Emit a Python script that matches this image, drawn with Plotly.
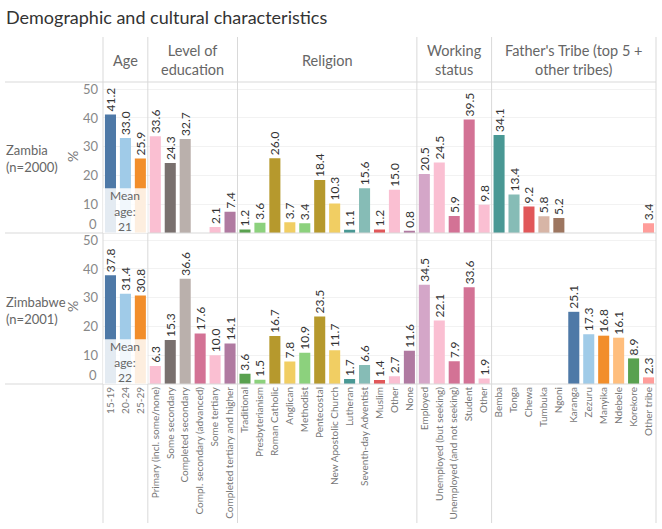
import plotly.graph_objects as go
from plotly.subplots import make_subplots

title_text = "Demographic and cultural characteristics"
group_titles = ["Age", "Level of<br>education", "Religion", "Working<br>status",
                "Father's Tribe (top 5 +<br>other tribes)"]
countries = ["Zambia<br>(n=2000)", "Zimbabwe<br>(n=2001)"]
mean_ages = ["21", "22"]

age_cats = ["15-19", "20-24", "25-29"]
edu_cats = ["Primary (incl. some/none)", "Some secondary", "Completed secondary",
            "Compl. secondary (advanced)", "Some tertiary", "Completed tertiary and higher"]
rel_cats = ["Traditional", "Presbyterianism", "Roman Catholic", "Anglican", "Methodist",
            "Pentecostal", "New Apostolic Church", "Lutheran", "Seventh-day Adventist",
            "Muslim", "Other", "None"]
work_cats = ["Employed", "Unemployed (but seeking)", "Unemployed (and not seeking)",
             "Student", "Other"]
tribe_cats = ["Bemba", "Tonga", "Chewa", "Tumbuka", "Ngoni", "Karanga", "Zezuru",
              "Manyika", "Ndebele", "Korekore", "Other tribe"]

zambia_age = [41.2, 33.0, 25.9]
zambia_edu = [33.6, 24.3, 32.7, None, 2.1, 7.4]
zambia_rel = [1.2, 3.6, 26.0, 3.7, 3.4, 18.4, 10.3, 1.1, 15.6, 1.2, 15.0, 0.8]
zambia_work = [20.5, 24.5, 5.9, 39.5, 9.8]
zambia_tribe = [34.1, 13.4, 9.2, 5.8, 5.2, None, None, None, None, None, 3.4]

zimbabwe_age = [37.8, 31.4, 30.8]
zimbabwe_edu = [6.3, 15.3, 36.6, 17.6, 10.0, 14.1]
zimbabwe_rel = [3.6, 1.5, 16.7, 7.8, 10.9, 23.5, 11.7, 1.7, 6.6, 1.4, 2.7, 11.6]
zimbabwe_work = [34.5, 22.1, 7.9, 33.6, 1.9]
zimbabwe_tribe = [None, None, None, None, None, 25.1, 17.3, 16.8, 16.1, 8.9, 2.3]

age_colors = ["#4e79a7", "#a0cbe8", "#f28e2b"]
edu_colors = ["#fabfd2", "#79706e", "#bab0ac", "#d37295", "#fabfd2", "#b07aa1"]
rel_colors = ["#59a14f", "#8cd17d", "#b6992d", "#f1ce63", "#8cd17d", "#b6992d",
              "#f1ce63", "#499894", "#86bcb6", "#e15759", "#fabfd2", "#b07aa1"]
work_colors = ["#d4a6c8", "#fabfd2", "#d37295", "#d37295", "#fabfd2"]
tribe_colors = ["#499894", "#86bcb6", "#e15759", "#d7b5a6", "#9d7660", "#4e79a7",
                "#a0cbe8", "#f28e2b", "#ffbe7d", "#59a14f", "#ff9d9a"]

cats = [age_cats, edu_cats, rel_cats, work_cats, tribe_cats]
colors = [age_colors, edu_colors, rel_colors, work_colors, tribe_colors]
data = [
    [zambia_age, zambia_edu, zambia_rel, zambia_work, zambia_tribe],
    [zimbabwe_age, zimbabwe_edu, zimbabwe_rel, zimbabwe_work, zimbabwe_tribe],
]

W, H = 662, 529
L, R, T, B = 103, 6, 82, 145
PW, PH = W - L - R, H - T - B
YMAX = 52.5


def px_x(px):
    return (px - L) / PW


def px_y(py):
    return (H - B - py) / PH


FONT = "Lato, 'Open Sans', sans-serif"

fig = make_subplots(rows=2, cols=5, column_widths=[len(c) for c in cats],
                    horizontal_spacing=0, vertical_spacing=0)

for r in range(2):
    for c in range(5):
        vals = data[r][c]
        fig.add_trace(go.Bar(
            x=cats[c],
            y=vals,
            marker=dict(color=colors[c], line=dict(width=0)),
            text=["" if v is None else f"{v:.1f}" for v in vals],
            textposition="outside",
            textangle=-90,
            constraintext="none",
            cliponaxis=False,
            textfont=dict(family=FONT, size=12, color="#333333"),
            hoverinfo="x+y",
            showlegend=False,
        ), row=r + 1, col=c + 1)

fig.update_layout(
    width=W, height=H,
    margin=dict(l=L, r=R, t=T, b=B, autoexpand=False),
    plot_bgcolor="white", paper_bgcolor="white",
    bargap=0.26,
    font=dict(family=FONT, color="#555555"),
)

fig.update_yaxes(range=[0, YMAX], tickvals=[10, 20, 30, 40, 50],
                 showgrid=True, gridcolor="#f2f2f2", gridwidth=1,
                 zeroline=False, showline=False, ticks="", showticklabels=False,
                 fixedrange=True, automargin=False)
for r in range(2):
    fig.update_yaxes(showticklabels=True, tickfont=dict(family=FONT, size=13, color="#888888"),
                     ticklabelstandoff=4, row=r + 1, col=1)

fig.update_xaxes(showgrid=False, zeroline=False, showline=False, ticks="",
                 showticklabels=False, fixedrange=True, automargin=False)
for c in range(5):
    fig.update_xaxes(showticklabels=True, tickangle=-90,
                     tickfont=dict(family=FONT, size=10, color="#777777"),
                     row=2, col=c + 1)

shapes = []
line_col = "#d9d9d9"
for py in [82, 233, 384]:
    shapes.append(dict(type="line", xref="paper", yref="paper",
                       x0=px_x(5), x1=px_x(656), y0=px_y(py), y1=px_y(py),
                       line=dict(color=line_col, width=1)))
cum = 0
xs = [L]
for cc in cats:
    cum += len(cc)
    xs.append(L + PW * cum / 37)
for xv in xs:
    shapes.append(dict(type="line", xref="paper", yref="paper",
                       x0=px_x(xv), x1=px_x(xv), y0=px_y(37), y1=px_y(523),
                       line=dict(color=line_col, width=1)))

annotations = []
annotations.append(dict(text=title_text, xref="paper", yref="paper", x=px_x(4), y=px_y(17),
                        xanchor="left", yanchor="middle", showarrow=False,
                        font=dict(family=FONT, size=18, color="#333333")))
for i, g in enumerate(group_titles):
    xm = (xs[i] + xs[i + 1]) / 2
    annotations.append(dict(text=g, xref="paper", yref="paper", x=px_x(xm), y=px_y(60),
                            xanchor="center", yanchor="middle", showarrow=False,
                            font=dict(family=FONT, size=14.5, color="#666666")))
for cname, ym in zip(countries, [158, 310]):
    annotations.append(dict(text=cname, xref="paper", yref="paper", x=px_x(4), y=px_y(ym),
                            xanchor="left", yanchor="middle", align="left", showarrow=False,
                            font=dict(family=FONT, size=13, color="#666666")))
for r, ym in enumerate([157, 307]):
    annotations.append(dict(text="%", xref="paper", yref="paper", x=px_x(72), y=px_y(ym),
                            xanchor="center", yanchor="middle", showarrow=False, textangle=-90,
                            font=dict(family=FONT, size=14, color="#777777")))

for r in range(2):
    xref = "x" if r == 0 else "x6"
    yref = "y" if r == 0 else "y6"
    annotations.append(dict(text="0", xref="paper", yref=yref, x=px_x(99), y=3.2,
                            xanchor="right", yanchor="middle", showarrow=False,
                            font=dict(family=FONT, size=13, color="#888888")))
    shapes.append(dict(type="rect", xref=xref, yref=yref, x0=-0.5, x1=2.5, y0=0, y1=15.6,
                       fillcolor="white", opacity=0.85, line=dict(width=0), layer="above"))
    annotations.append(dict(text="Mean<br>age:<br>" + mean_ages[r], xref=xref, yref=yref,
                            x=1, y=7.8, xanchor="center", yanchor="middle", showarrow=False,
                            font=dict(family=FONT, size=12, color="#666666")))

fig.update_layout(shapes=shapes, annotations=annotations)

fig.write_html("out.html", config={"displayModeBar": False},
               post_script="document.body.style.margin='0';document.body.style.padding='0';")
